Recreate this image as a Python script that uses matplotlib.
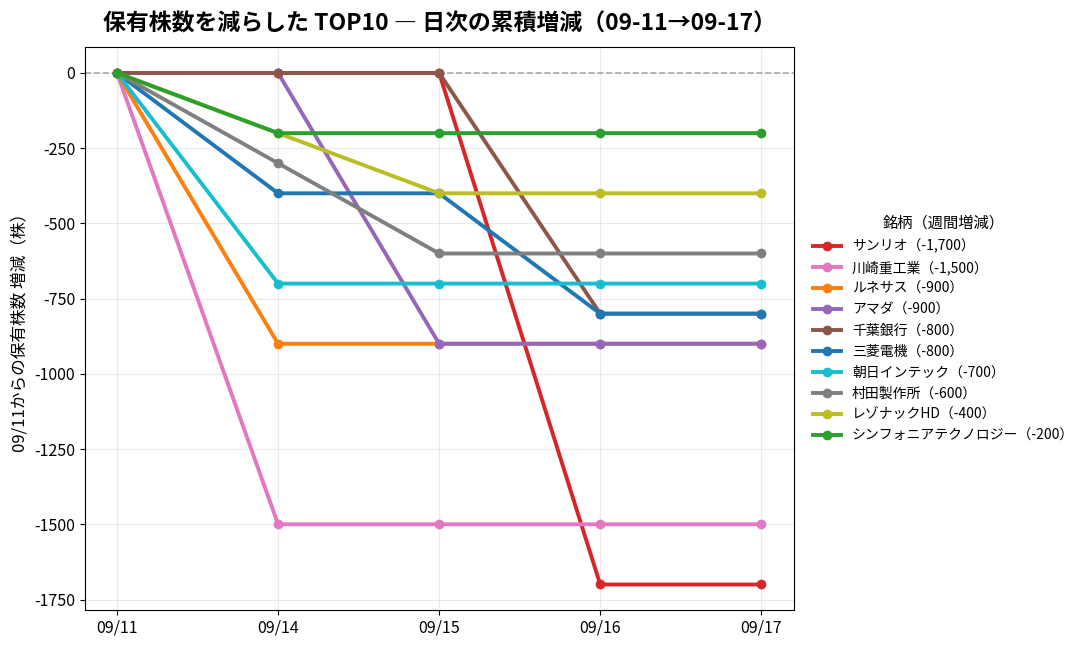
import matplotlib
matplotlib.use("Agg")
import matplotlib.pyplot as plt

plt.rcParams['font.family'] = ['Noto Sans CJK JP', 'DejaVu Sans']
plt.rcParams['axes.unicode_minus'] = False

dates = ["09/11", "09/14", "09/15", "09/16", "09/17"]

names = ["サンリオ", "川崎重工業", "ルネサス", "アマダ", "千葉銀行",
         "三菱電機", "朝日インテック", "村田製作所", "レゾナックHD",
         "シンフォニアテクノロジー"]
weekly = ["-1,700", "-1,500", "-900", "-900", "-800",
          "-800", "-700", "-600", "-400", "-200"]

sanrio = [0, 0, 0, -1700, -1700]
kawasaki = [0, -1500, -1500, -1500, -1500]
renesas = [0, -900, -900, -900, -900]
amada = [0, 0, -900, -900, -900]
chiba = [0, 0, 0, -800, -800]
mitsubishi = [0, -400, -400, -800, -800]
asahi = [0, -700, -700, -700, -700]
murata = [0, -300, -600, -600, -600]
resonac = [0, -200, -400, -400, -400]
sinfonia = [0, -200, -200, -200, -200]

series = [sanrio, kawasaki, renesas, amada, chiba,
          mitsubishi, asahi, murata, resonac, sinfonia]
colors = ["tab:red", "tab:pink", "tab:orange", "tab:purple", "tab:brown",
          "tab:blue", "tab:cyan", "tab:gray", "tab:olive", "tab:green"]

fig, ax = plt.subplots(figsize=(10.87, 6.49), dpi=100)

x = range(len(dates))
for name, w, vals, c in zip(names, weekly, series, colors):
    ax.plot(x, vals, marker='o', markersize=6, linewidth=2.8, color=c,
            label=f"{name}（{w}）")

ax.axhline(0, color='#aaaaaa', linestyle='--', linewidth=1.2, zorder=0)
ax.set_xticks(list(x))
ax.set_xticklabels(dates)
ax.set_yticks(range(-1750, 1, 250))
ax.tick_params(labelsize=11.5)
ax.grid(True, alpha=0.25)
ax.set_ylabel("09/11からの保有株数 増減（株）", fontsize=12)
ax.set_title("保有株数を減らした TOP10 ― 日次の累積増減（09-11→09-17）",
             fontsize=16.5, fontweight='bold', pad=12)

leg = ax.legend(title="銘柄（週間増減）", loc='center left',
                bbox_to_anchor=(1.01, 0.5), frameon=False, fontsize=10,
                title_fontsize=11)

plt.subplots_adjust(left=0.078, right=0.73, top=0.927, bottom=0.06)
fig.savefig("out.png", dpi=100)
